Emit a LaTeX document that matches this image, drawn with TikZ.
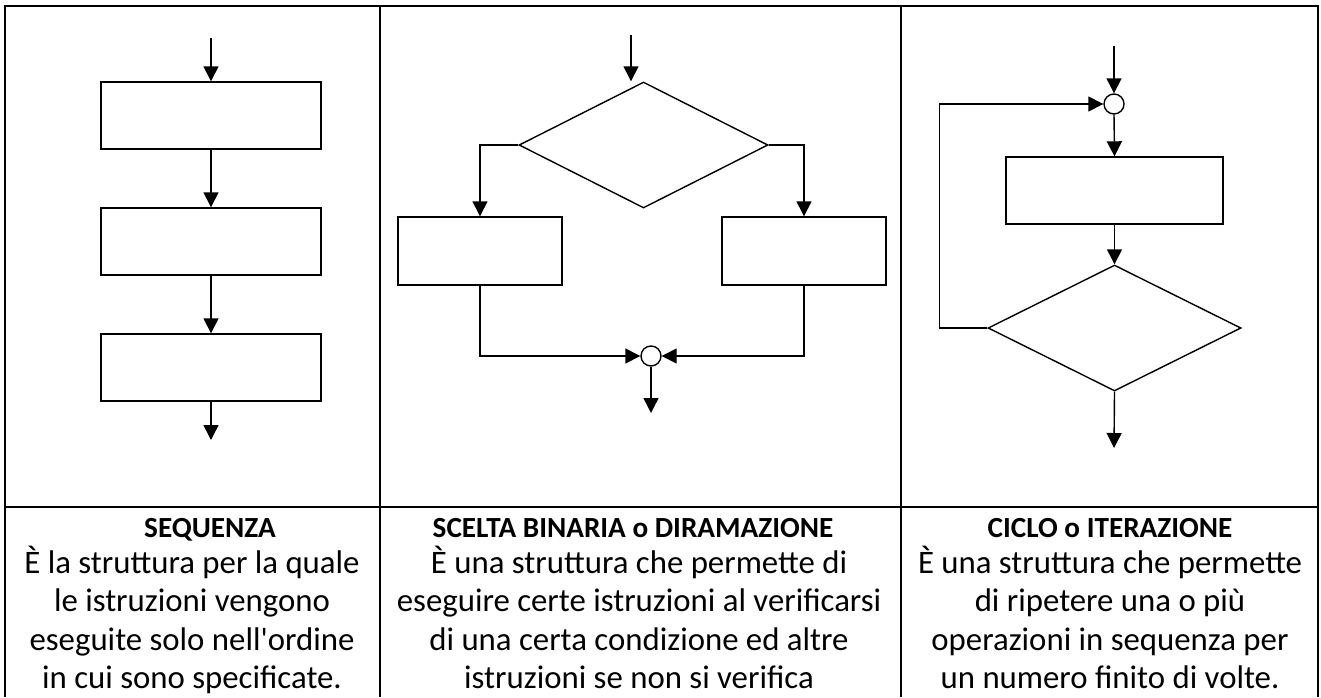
\documentclass[tikz,border=0pt]{standalone}
\usepackage{fontspec}
\setmainfont{Carlito}
\usetikzlibrary{arrows.meta}
\usetikzlibrary{shapes.geometric}

\begin{document}
\begin{tikzpicture}[unit length/.code={{\newdimen\tikzunit}\setlength{\tikzunit}{#1}},unit length=0.5pt,x=\tikzunit,y=-\tikzunit,frame/.style={draw,line width=1pt},wire/.style={draw,line width=0.7pt},flow/.style={wire,-{Triangle[length=7.5pt,width=7.5pt]}},box/.style={rectangle,draw,line width=0.7pt,inner sep=0},cond/.style={diamond,draw,line width=0.7pt,inner sep=0},junction/.style={circle,draw,fill=white,line width=0.7pt,inner sep=0,minimum size=20\tikzunit},title/.style={anchor=base,inner sep=0,font=\fontsize{14.6}{17}\selectfont\bfseries},caption/.style={anchor=base,inner sep=0,font=\fontsize{16.4}{19.15}\selectfont}]
  \useasboundingbox (0,0) rectangle (1321,697);
  \path[frame] (5,697) -- (5,6) -- (1318,6) -- (1318,697);
  \path[frame] (380,6) -- (380,697);
  \path[frame] (901,6) -- (901,697);
  \path[frame] (5,507) -- (1318,507);
  % sequenza
  \coordinate (s0) at (211,38);
  \node[box,minimum width=220\tikzunit,minimum height=67\tikzunit] (s1) at (211,115.5) {};
  \node[box,minimum width=220\tikzunit,minimum height=67\tikzunit] (s2) at (211,241.5) {};
  \node[box,minimum width=220\tikzunit,minimum height=67\tikzunit] (s3) at (211,367.5) {};
  \coordinate (s4) at (211,440);
  \path[flow] (s0) -- (s1.north);
  \path[flow] (s1.south) -- (s2.north);
  \path[flow] (s2.south) -- (s3.north);
  \path[flow] (s3.south) -- (s4);
  % scelta binaria
  \coordinate (b0) at (631,35);
  \node[cond,minimum width=249\tikzunit,minimum height=126\tikzunit] (b1) at (643.5,145) {};
  \node[box,minimum width=164\tikzunit,minimum height=68\tikzunit] (b2) at (480,251) {};
  \node[box,minimum width=164\tikzunit,minimum height=68\tikzunit] (b3) at (804,251) {};
  \node[junction] (b4) at (651,356) {};
  \coordinate (b5) at (651,413);
  \path[flow] (b0) -- (b0 |- b1.north);
  \path[flow] (b1.west) -| (b2.north);
  \path[flow] (b1.east) -| (b3.north);
  \path[flow] (b2.south) |- (b4.west);
  \path[flow] (b3.south) |- (b4.east);
  \path[flow] (b4.south) -- (b5);
  % ciclo
  \coordinate (c0) at (1114,46);
  \node[junction] (c1) at (1114,104) {};
  \node[box,minimum width=217\tikzunit,minimum height=67\tikzunit] (c2) at (1114.5,190.5) {};
  \node[cond,minimum width=253\tikzunit,minimum height=126\tikzunit] (c3) at (1114.5,328) {};
  \coordinate (c4) at (1114,448);
  \path[flow] (c0) -- (c1.north);
  \path[flow] (c1.south) -- (c2.north);
  \path[flow] (c2.south) -- (c3.north);
  \path[flow] (c3.south) -- (c4);
  \path[flow] (c3.west) -- ++(-48,0) |- (c1.west);
  % didascalie
  \node[title] (h1) at (210,537) {SEQUENZA};
  \node[caption] (d1) at (192,573.5) {\begin{tabular}[t]{@{}c@{}}È la struttura per la quale\\le istruzioni vengono\\eseguite solo nell\textquotesingle ordine\\in cui sono specificate.\end{tabular}};
  \node[title] (h2) at (633,537) {SCELTA BINARIA o DIRAMAZIONE};
  \node[caption] (d2) at (639,573.5) {\begin{tabular}[t]{@{}c@{}}È una struttura che permette di\\eseguire certe istruzioni al verificarsi\\di una certa condizione ed altre\\istruzioni se non si verifica\end{tabular}};
  \node[title] (h3) at (1110,537) {CICLO o ITERAZIONE};
  \node[caption] (d3) at (1110,573.5) {\begin{tabular}[t]{@{}c@{}}È una struttura che permette\\di ripetere una o più\\operazioni in sequenza per\\un numero finito di volte.\end{tabular}};
\end{tikzpicture}
\end{document}
